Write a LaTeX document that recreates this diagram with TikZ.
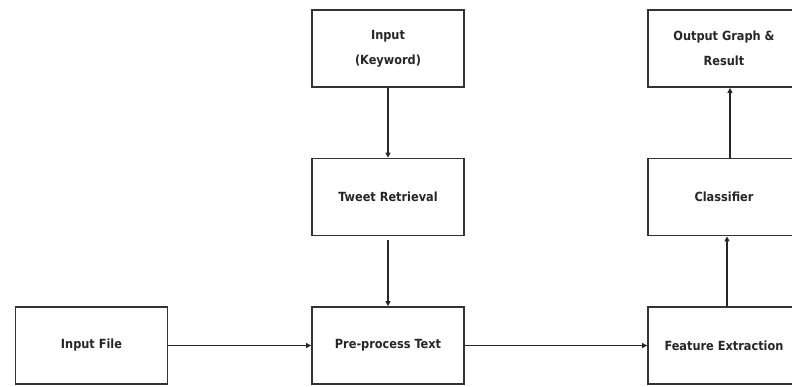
\documentclass[tikz,border=0pt]{standalone}
\usepackage{fontspec}
\newfontfamily\boxfont{DejaVu Sans Condensed}
\usetikzlibrary{arrows.meta}
\tikzset{
  stagebox/.style={draw=black!80, line width=1.8pt, fill=white,
    minimum width=152pt, minimum height=77pt, inner sep=2pt,
    align=center, font=\boxfont\bfseries\fontsize{12.6}{25}\selectfont, text=black!85},
  flowarrow/.style={draw=black!85, line width=1.4pt,
    -{Triangle[length=5pt,width=5pt]}}
}
\begin{document}
\begin{tikzpicture}[x=1pt,y=-1pt]
  \useasboundingbox (0,0) rectangle (792,386);
  \clip (0,0) rectangle (792,386);
  \fill[white] (0,0) rectangle (792,386);

  % left and middle column
  \node[stagebox] (file)     at (91.5,345.5) {Input File};
  \node[stagebox] (keyword)  at (388,48.5)   {Input\\(Keyword)};
  \node[stagebox] (tweet)    at (388,197)    {Tweet Retrieval};
  \node[stagebox] (prep)     at (388,345.5)  {Pre-process Text};

  % right column (runs past the page edge)
  \node[stagebox] (output)   at (724,48.5)   {Output Graph \&\\Result};
  \node[stagebox] (classify) at (724,197)    {Classifier};
  \node[stagebox] (feature)  at (724,345.5)  {Feature Extraction};

  % connectors
  \draw[flowarrow] (keyword.south) -- (tweet.north);
  \draw[flowarrow] ([yshift=-4pt]tweet.south) -- (prep.north);
  \draw[flowarrow] (file.east) -- (prep.west);
  \draw[flowarrow] (prep.east) -- (feature.west);
  \draw[flowarrow] ([xshift=3pt]feature.north) -- ([xshift=3pt]classify.south);
  \draw[flowarrow] ([xshift=6pt]classify.north) -- ([xshift=6pt]output.south);
\end{tikzpicture}
\end{document}
